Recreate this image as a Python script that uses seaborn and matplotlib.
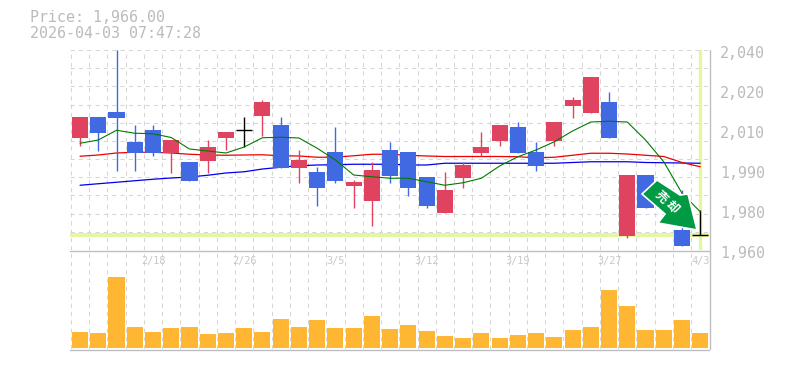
import numpy as np
import pandas as pd
import seaborn as sns
import matplotlib
matplotlib.use("Agg")
import matplotlib.pyplot as plt
from matplotlib.patches import Polygon
from matplotlib.transforms import IdentityTransform

sns.set_theme(style="white")
plt.rcParams['font.family'] = ['DejaVu Sans Mono', 'Noto Sans CJK JP', 'DejaVu Sans']

opens = [2004.8, 2013.2, 2015.2, 2003.2, 2008.0, 1998.8, 1995.2, 1995.6, 2004.8, 2008.0, 2013.6, 2010.0,
         1992.8, 1991.2, 1999.2, 1985.6, 1979.6, 2000.0, 1999.2, 1989.2, 1974.8, 1988.8, 1998.8, 2003.6,
         2009.2, 1999.2, 2003.6, 2017.6, 2014.8, 2019.2, 1965.6, 1990.0, 1980.0, 1968.0, 1966.0]
closes = [2013.2, 2006.8, 2012.8, 1998.8, 1998.8, 2004.0, 1987.6, 2001.2, 2007.2, 2008.0, 2019.2, 1992.8,
          1996.0, 1984.8, 1987.6, 1987.2, 1992.0, 1989.6, 1984.8, 1977.6, 1984.0, 1994.0, 2001.2, 2010.0,
          1998.8, 1993.6, 2011.2, 2020.0, 2029.2, 2004.8, 1990.0, 1976.8, 1978.0, 1961.6, 1966.0]
highs = [2013.2, 2013.2, 2040.0, 2010.0, 2010.0, 2004.0, 1995.2, 2004.0, 2007.2, 2013.2, 2020.0, 2013.2,
         2000.0, 1993.2, 2009.2, 1988.0, 1995.2, 2003.2, 1999.2, 1989.2, 1991.2, 1995.2, 2007.2, 2010.0,
         2011.2, 2003.2, 2011.2, 2021.2, 2029.2, 2023.2, 1990.0, 1990.0, 1980.0, 1984.0, 1976.0]
lows = [2001.6, 1999.6, 1991.6, 1991.6, 1997.6, 1990.8, 1987.6, 1990.8, 2000.0, 2001.2, 2005.6, 1992.8,
        1986.8, 1977.6, 1986.8, 1976.8, 1969.6, 1986.8, 1981.6, 1976.8, 1974.8, 1984.8, 1997.6, 2001.6,
        1998.8, 1991.6, 2001.6, 2012.8, 2014.8, 2004.8, 1964.8, 1976.8, 1978.0, 1961.6, 1966.0]
ma_green = [2002.7, 2004.0, 2007.9, 2006.7, 2006.5, 2005.0, 2000.4, 1999.6, 1998.8, 2001.2, 2004.9, 2005.1,
            2004.8, 2000.7, 1996.0, 1990.0, 1989.3, 1988.7, 1988.7, 1987.3, 1985.9, 1986.9, 1988.7, 1993.6,
            1997.3, 2000.0, 2003.3, 2007.6, 2011.2, 2011.5, 2011.2, 2004.0, 1995.3, 1982.7, 1975.3]
ma_red = [1997.5, 1998.0, 1998.8, 1999.1, 1999.1, 1998.8, 1998.3, 1998.0, 1997.9, 1998.0, 1998.1, 1997.7,
          1997.6, 1997.1, 1997.1, 1997.7, 1998.3, 1998.3, 1997.9, 1997.6, 1997.4, 1997.4, 1997.4, 1997.4,
          1997.3, 1996.9, 1997.1, 1997.9, 1998.7, 1998.7, 1998.4, 1997.9, 1997.4, 1995.0, 1993.3]
ma_blue = [1985.9, 1986.5, 1987.1, 1987.7, 1988.3, 1988.8, 1989.2, 1989.9, 1990.8, 1991.3, 1992.4, 1993.1,
           1993.7, 1994.0, 1994.1, 1994.3, 1994.3, 1994.3, 1994.0, 1994.0, 1994.7, 1994.7, 1994.7, 1994.7,
           1994.7, 1994.7, 1994.7, 1995.0, 1995.3, 1995.3, 1995.3, 1995.0, 1994.9, 1994.8, 1994.7]
volumes = [15.7, 14.7, 70.7, 20.7, 15.7, 19.7, 20.7, 13.7, 14.7, 19.7, 15.7, 28.7, 20.7, 27.7, 19.7, 19.7,
           31.7, 18.7, 22.7, 16.7, 11.7, 9.7, 14.7, 9.7, 12.7, 14.7, 10.7, 17.7, 20.7, 57.7, 41.7, 17.7,
           17.7, 27.7, 14.7]
date_ticks = {4: "2/18", 9: "2/26", 14: "3/5", 19: "3/12", 24: "3/19", 29: "3/27", 34: "4/3"}
price_labels = ["1,960", "1,980", "1,990", "2,010", "2,020", "2,040"]
last_price = 1966.0
title_lines = ["Price: 1,966.00", "2026-04-03 07:47:28"]

W, H = 785, 370
RED, BLUE, ORANGE, BAND, GRID, FRAME, TXT = "#E0435F", "#4169E1", "#FFB733", "#E3F6A0", "#D6D6D6", "#BEBEBE", "#BBBBBB"
def rect(l, t, r, b):
    return [l / W, 1 - b / H, (r - l) / W, (b - t) / H]

fig = plt.figure(figsize=(W / 100, H / 100), dpi=100)
ax = fig.add_axes(rect(70, 50, 709, 250))
axv = fig.add_axes(rect(70, 250, 709, 349))
df = pd.DataFrame({"i": range(35), "o": opens, "c": closes, "h": highs, "l": lows, "v": volumes,
                   "g": ma_green, "r": ma_red, "b": ma_blue})
xlim = (-0.55, 34.48)
dash = (0, (4, 4))

for a in (ax, axv):
    a.set_xlim(*xlim)
    a.set_xticks(np.arange(0, 35) - 0.5)
    a.tick_params(length=0, labelbottom=False, labelleft=False)
    a.grid(True, axis="x", color=GRID, ls=dash, lw=0.75)
    a.set_axisbelow(True)
    for s in a.spines.values():
        s.set_visible(False)
ax.set_ylim(1960, 2040)
ax.set_yticks(1960 + np.arange(12) * 80 / 11)
ax.grid(True, axis="y", color=GRID, ls=dash, lw=0.75)
axv.set_ylim(-1, 98)
axv.set_yticks([])

# last price marker band
ax.axhline(last_price, color=BAND, lw=2.8, zorder=1)
ax.axvline(34, color=BAND, lw=2.4, zorder=1)

# moving averages
sns.lineplot(data=df, x="i", y="b", ax=ax, color="#0000EE", lw=0.9, zorder=2, legend=False)
sns.lineplot(data=df, x="i", y="r", ax=ax, color="#EE0000", lw=0.9, zorder=2, legend=False)

# candles
for row in df.itertuples():
    col = "black" if row.o == row.c else (RED if row.c > row.o else BLUE)
    ax.vlines(row.i, row.l, row.h, color=col, lw=1.0, zorder=3)
    if row.o == row.c:
        ax.hlines(row.o, row.i - 0.44, row.i + 0.44, color=col, lw=1.0, zorder=3)
    else:
        ax.bar(row.i, abs(row.c - row.o), bottom=min(row.o, row.c), width=0.88, color=col, lw=0, zorder=3)
sns.lineplot(data=df, x="i", y="g", ax=ax, color="#007A00", lw=0.8, zorder=4, legend=False)

# volume
axv.bar(df["i"], df["v"], width=0.88, color=ORANGE, lw=0, zorder=3)
for i, s in date_ticks.items():
    axv.text(i, 0.89, s, transform=axv.get_xaxis_transform(), ha="center", va="center",
             fontsize=7.4, color="#C8C8C8", zorder=5)

# frame lines
fig.add_artist(plt.Line2D([70 / W, 709 / W], [1 - 250.5 / H] * 2, color=FRAME, lw=1))
fig.add_artist(plt.Line2D([70 / W, 709 / W], [1 - 349.5 / H] * 2, color=FRAME, lw=1))
fig.add_artist(plt.Line2D([709.5 / W] * 2, [1 - 50 / H, 1 - 349 / H], color=FRAME, lw=1))

# right-hand price labels
for k, s in enumerate(price_labels):
    fig.text(720 / W, 1 - (253 - 40 * k) / H, s, fontsize=10.8, color=TXT, va="center", ha="left")

# header
fig.text(30 / W, 1 - 18 / H, title_lines[0], fontsize=10.8, color=TXT, va="center")
fig.text(30 / W, 1 - 33 / H, title_lines[1], fontsize=10.8, color=TXT, va="center")

# arrow sticker (pixel coordinates)
pts = [(657, 180), (642, 194), (665, 214), (658, 223), (697, 230), (688, 194), (680, 195)]
pts = [(x, H - y) for x, y in pts]
fig.add_artist(Polygon(pts, closed=True, transform=IdentityTransform(), fc="#009944", ec="white", lw=1.2, zorder=10))
for (x, y), s in zip([(661, 197), (672, 207)], ["売", "却"]):
    fig.text(x / W, 1 - y / H, s, fontsize=8.8, color="white", rotation=-45, ha="center", va="center",
             fontweight="bold", zorder=11, family=['Noto Sans CJK JP', 'DejaVu Sans'],
             rotation_mode="anchor")

fig.savefig("out.png", dpi=100, facecolor="white")
